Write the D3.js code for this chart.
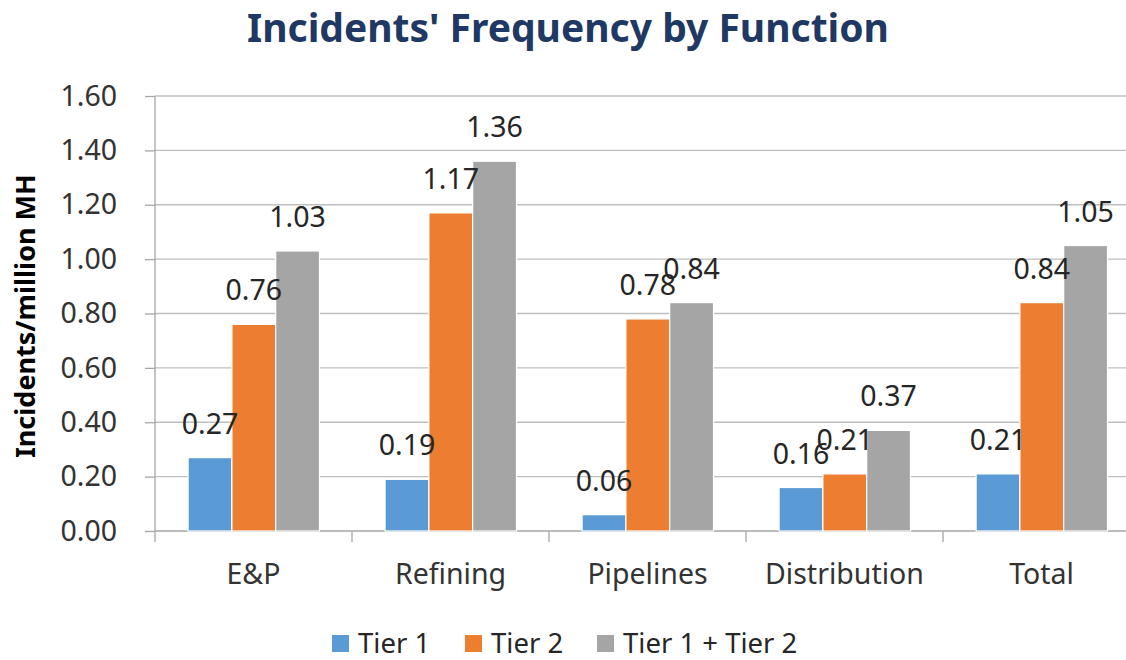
<!DOCTYPE html>
<html>
<head>
<meta charset="utf-8">
<script src="https://cdn.jsdelivr.net/npm/d3@7"></script>
<style>
  html, body { margin: 0; padding: 0; background: #fff; overflow: hidden; }
  svg { display: block; font-family: "Noto Sans", sans-serif; }
</style>
</head>
<body>
<div id="chart"></div>
<script>
// data
const categories = ["E&P", "Refining", "Pipelines", "Distribution", "Total"];
const seriesNames = ["Tier 1", "Tier 2", "Tier 1 + Tier 2"];
const tier1 = [0.27, 0.19, 0.06, 0.16, 0.21];
const tier2 = [0.76, 1.17, 0.78, 0.21, 0.84];
const tierBoth = [1.03, 1.36, 0.84, 0.37, 1.05];
const yTicks = [0, 0.2, 0.4, 0.6, 0.8, 1.0, 1.2, 1.4, 1.6];
const colors = ["#5B9BD5", "#ED7D31", "#A5A5A5"];

(function () {
    const width = 1126, height = 660;
    const seriesValues = [tier1, tier2, tierBoth];

    const svg = d3.select("#chart").append("svg")
        .attr("width", width)
        .attr("height", height);

    // scales (plot is cut off on the right, like the source image)
    const x0 = d3.scaleBand().domain(categories).range([155, 1140]);
    const x1 = d3.scaleBand().domain(seriesNames)
        .range([x0.bandwidth() * 0.168, x0.bandwidth() * 0.835]);
    const y = d3.scaleLinear().domain([0, 1.6]).range([531, 96]);

    // gridlines
    svg.append("g").selectAll("line")
        .data(yTicks.slice(1))
        .enter().append("line")
        .attr("x1", 155).attr("x2", width)
        .attr("y1", d => y(d)).attr("y2", d => y(d))
        .attr("stroke", "#BFBFBF")
        .attr("stroke-width", 1.3);

    // y axis
    const yAxis = svg.append("g")
        .attr("transform", "translate(155,0)")
        .call(d3.axisLeft(y).tickValues(yTicks).tickFormat(d3.format(".2f")).tickSize(10));
    yAxis.select(".domain").remove();
    yAxis.selectAll(".tick line").attr("stroke", "#A6A6A6").attr("stroke-width", 1.3);
    yAxis.selectAll(".tick text")
        .attr("x", -38)
        .style("font-size", "28.5px")
        .style("font-family", "'Noto Sans', sans-serif")
        .attr("fill", "#333");
    svg.append("line")
        .attr("x1", 155).attr("x2", 155)
        .attr("y1", y(1.6)).attr("y2", y(0) + 11)
        .attr("stroke", "#A6A6A6").attr("stroke-width", 1.3);

    // x axis
    svg.append("line")
        .attr("x1", 155).attr("x2", width)
        .attr("y1", y(0)).attr("y2", y(0))
        .attr("stroke", "#A6A6A6").attr("stroke-width", 1.3);
    svg.append("g").selectAll("line")
        .data(categories)
        .enter().append("line")
        .attr("x1", d => x0(d) + x0.bandwidth()).attr("x2", d => x0(d) + x0.bandwidth())
        .attr("y1", y(0)).attr("y2", y(0) + 11)
        .attr("stroke", "#A6A6A6").attr("stroke-width", 1.3);
    svg.append("g").selectAll("text")
        .data(categories)
        .enter().append("text")
        .attr("x", d => x0(d) + x0.bandwidth() / 2)
        .attr("y", 584)
        .attr("text-anchor", "middle")
        .attr("fill", "#333")
        .style("font-size", "28.5px")
        .text(d => d);

    // flat list of bars
    const barData = [];
    categories.forEach((c, i) => {
        seriesNames.forEach((s, j) => {
            barData.push({ cat: c, s: s, v: seriesValues[j][i], c: colors[j] });
        });
    });

    svg.append("g").selectAll("rect")
        .data(barData)
        .enter().append("rect")
        .attr("x", d => x0(d.cat) + x1(d.s))
        .attr("y", d => y(d.v))
        .attr("width", x1.bandwidth())
        .attr("height", d => y(0) - y(d.v))
        .attr("fill", d => d.c)
        .attr("stroke", "#fff")
        .attr("stroke-width", 1.2);

    // data labels, drawn over all bars
    svg.append("g").selectAll("text")
        .data(barData)
        .enter().append("text")
        .attr("x", d => x0(d.cat) + x1(d.s) + x1.bandwidth() / 2)
        .attr("y", d => y(d.v) - 24)
        .attr("text-anchor", "middle")
        .attr("fill", "#262626")
        .style("font-size", "28.5px")
        .text(d => d.v.toFixed(2));

    // title
    svg.append("text")
        .attr("x", 568)
        .attr("y", 42)
        .attr("text-anchor", "middle")
        .attr("fill", "#203864")
        .style("font-size", "39px")
        .style("font-weight", "bold")
        .text("Incidents' Frequency by Function");

    // y axis title
    svg.append("text")
        .attr("transform", "translate(35,316) rotate(-90)")
        .attr("text-anchor", "middle")
        .attr("fill", "#000")
        .style("font-size", "27px")
        .style("font-weight", "bold")
        .text("Incidents/million MH");

    // legend
    const legendX = [332, 465, 597];
    const legend = svg.append("g").selectAll("g")
        .data(seriesNames)
        .enter().append("g")
        .attr("transform", (d, i) => `translate(${legendX[i]},0)`);
    legend.append("rect")
        .attr("y", 635)
        .attr("width", 17)
        .attr("height", 17)
        .attr("fill", (d, i) => colors[i]);
    legend.append("text")
        .attr("x", 26)
        .attr("y", 653)
        .attr("fill", "#262626")
        .style("font-size", "27.5px")
        .text(d => d);
})();
</script>
</body>
</html>
